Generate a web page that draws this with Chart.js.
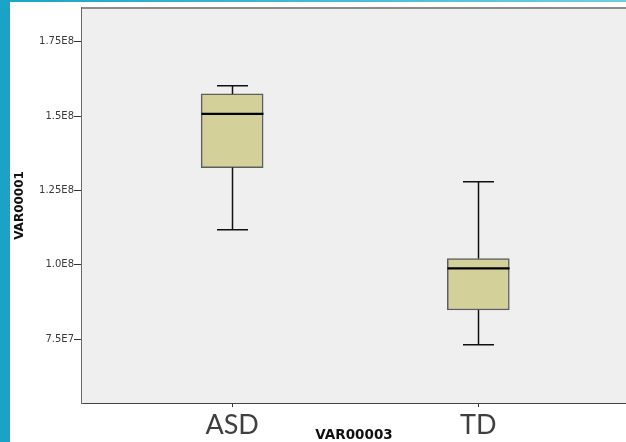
<!DOCTYPE html>
<html>
<head>
<meta charset="utf-8">
<script src="https://cdn.jsdelivr.net/npm/chart.js@4.4.1/dist/chart.umd.min.js"></script>
<style>
  html, body { margin: 0; padding: 0; background: #ffffff; overflow: hidden; }
  body { width: 626px; height: 442px; position: relative; }
  #stripeLeft { position: absolute; left: 0; top: 0; width: 10px; height: 442px; background: #19a4c7; }
  #stripeTop { position: absolute; left: 0; top: 0; width: 626px; height: 2px; background: linear-gradient(to right, #19a4c7, #72cde0); }
  #wrap { position: absolute; left: 10px; top: 2px; width: 616px; height: 440px; }
</style>
</head>
<body>
<div id="stripeLeft"></div>
<div id="stripeTop"></div>
<div id="wrap"><canvas id="c" width="616" height="440"></canvas></div>
<script>
// Groups on the horizontal axis and their positions on the linear x scale
const categories = ['ASD', 'TD'];
const categoryPos = [0, 1];

// Box-plot summary per group
const whiskerLow  = [1.118e8, 7.31e7];
const q1          = [1.327e8, 8.48e7];
const median      = [1.508e8, 9.88e7];
const q3          = [1.575e8, 1.021e8];
const whiskerHigh = [1.602e8, 1.279e8];

// Vertical axis ticks and their printed labels
const yTickValues = [7.5e7, 1.0e8, 1.25e8, 1.5e8, 1.75e8];
const yTickLabels = ['7.5E7', '1.0E8', '1.25E8', '1.5E8', '1.75E8'];

const boxData = categoryPos.map((x, i) => ({ x: x, y: [q1[i], q3[i]] }));

// Plot background, top frame line, whiskers, caps and medians
const boxPlotExtras = {
  id: 'boxPlotExtras',
  beforeDatasetsDraw(chart) {
    const { ctx, chartArea: a } = chart;
    ctx.save();
    ctx.fillStyle = '#efefef';
    ctx.fillRect(a.left, a.top, a.right - a.left, a.bottom - a.top);
    ctx.strokeStyle = '#8c8c8c';
    ctx.lineWidth = 2;
    ctx.beginPath();
    ctx.moveTo(a.left, a.top);
    ctx.lineTo(a.right, a.top);
    ctx.stroke();
    ctx.restore();
  },
  afterDatasetsDraw(chart) {
    const { ctx } = chart;
    const xs = chart.scales.x, ys = chart.scales.y;
    const meta = chart.getDatasetMeta(0);
    ctx.save();
    categoryPos.forEach((pos, i) => {
      const cx = Math.round(xs.getPixelForValue(pos)) + 0.5;
      const half = meta.data[i].width / 2;
      const capHalf = 15.5;
      const yLo = ys.getPixelForValue(whiskerLow[i]);
      const yHi = ys.getPixelForValue(whiskerHigh[i]);
      const yQ1 = ys.getPixelForValue(q1[i]);
      const yQ3 = ys.getPixelForValue(q3[i]);
      const yMed = ys.getPixelForValue(median[i]);
      ctx.strokeStyle = '#111111';
      ctx.lineWidth = 1.5;
      ctx.beginPath();
      ctx.moveTo(cx, yHi); ctx.lineTo(cx, yQ3);
      ctx.moveTo(cx, yQ1); ctx.lineTo(cx, yLo);
      ctx.moveTo(cx - capHalf, yHi); ctx.lineTo(cx + capHalf, yHi);
      ctx.moveTo(cx - capHalf, yLo); ctx.lineTo(cx + capHalf, yLo);
      ctx.stroke();
      ctx.lineWidth = 2.2;
      ctx.strokeStyle = '#000000';
      ctx.beginPath();
      ctx.moveTo(cx - half, yMed); ctx.lineTo(cx + half, yMed);
      ctx.stroke();
    });
    ctx.restore();
  }
};

new Chart(document.getElementById('c'), {
  type: 'bar',
  data: {
    datasets: [{
      data: boxData,
      backgroundColor: '#d4d09a',
      borderColor: '#5e5e5e',
      borderWidth: 1.5,
      borderSkipped: false,
      barThickness: 62
    }]
  },
  options: {
    responsive: false,
    animation: false,
    layout: { padding: { top: 6, right: 0, bottom: 0, left: 0 } },
    plugins: { legend: { display: false }, tooltip: { enabled: false } },
    scales: {
      x: {
        type: 'linear',
        offset: false,
        min: -0.61,
        max: 1.6,
        afterBuildTicks(scale) { scale.ticks = categoryPos.map(v => ({ value: v })); },
        afterFit(scale) { scale.height = 39; },
        grid: { display: true, offset: false, drawOnChartArea: false, drawTicks: true, tickLength: 4, tickColor: '#333333', lineWidth: 1 },
        border: { display: true, color: '#444444', width: 2 },
        ticks: {
          autoSkip: false,
          maxRotation: 0,
          padding: 2,
          color: '#3f3f3f',
          font: { family: 'Lato', size: 27, lineHeight: 1.2 },
          callback: (v) => categories[categoryPos.indexOf(v)]
        },
        title: {
          display: true,
          text: 'VAR00003',
          color: '#111111',
          padding: { top: 0, bottom: 0 },
          font: { family: 'DejaVu Sans', size: 13.5, weight: 'bold', lineHeight: 0.9 }
        }
      },
      y: {
        min: 5.35e7,
        max: 1.864e8,
        afterBuildTicks(scale) { scale.ticks = yTickValues.map(v => ({ value: v })); },
        afterFit(scale) { scale.width = 72; },
        grid: { display: true, drawOnChartArea: false, drawTicks: true, tickLength: 8, tickColor: '#333333', lineWidth: 1 },
        border: { display: true, color: '#6a6a6a', width: 2 },
        ticks: {
          autoSkip: false,
          padding: 0,
          color: '#3a3a3a',
          font: { family: 'DejaVu Sans', size: 10 },
          callback: (v) => yTickLabels[yTickValues.indexOf(v)]
        },
        title: {
          display: true,
          text: 'VAR00001',
          color: '#111111',
          padding: { top: 3, bottom: 0 },
          font: { family: 'DejaVu Sans', size: 12, weight: 'bold' }
        }
      }
    }
  },
  plugins: [boxPlotExtras]
});
</script>
</body>
</html>
